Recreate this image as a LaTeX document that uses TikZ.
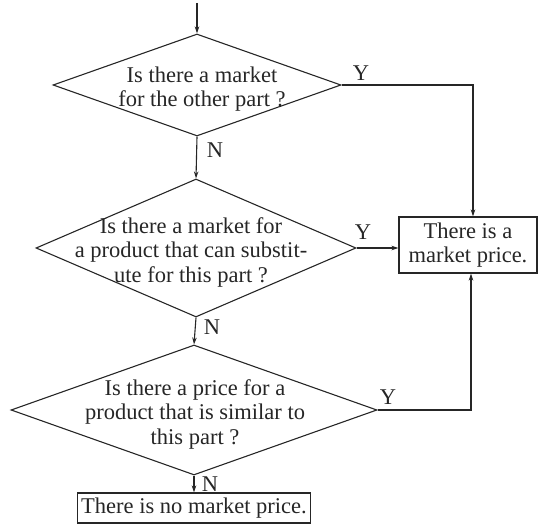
\documentclass[tikz,border=0pt]{standalone}
\usepackage{fontspec}
\setmainfont{Liberation Serif}
\usetikzlibrary{shapes.geometric, arrows.meta}

\tikzset{
  decision/.style={diamond, draw, inner sep=0pt},
  question/.style={align=center, inner sep=0pt},
  answer/.style={draw, align=center, inner xsep=4pt, inner ysep=3pt},
  flow/.style={-{Stealth[length=7pt, width=4.5pt]}},
}

\begin{document}
\begin{tikzpicture}[line width=1.1pt, color=black!85, font=\fontsize{22.5}{24.5}\selectfont]
\begin{scope}[x=1pt, y=-1pt]
\useasboundingbox (0,0) rectangle (538,526);

% decisions
\coordinate (in) at (197,3);
\node[decision, minimum width=288pt, minimum height=102pt] (d1) at (197,85) {};
\node[question] (q1) at (202,89) {Is there a market\\for the other part ?};
\node[decision, minimum width=320pt, minimum height=138pt] (d2) at (196,248) {};
\node[question] (q2) at (191,252) {Is there a market for\\a product that can substit-\\ute for this part ?};
\node[decision, minimum width=366pt, minimum height=130pt] (d3) at (194,410) {};
\node[question] (q3) at (195,414) {Is there a price for a\\product that is similar to\\this part ?};

% outcomes
\node[answer, minimum width=138pt, minimum height=56pt] (mp) at (468,245) {There is a\\market price.};
\node[answer, minimum height=30pt] (none) at (194,508) {There is no market price.};

\draw[flow] (in) -- (d1.north);
\draw[flow] (d1.south) -- (d2.north);
\draw[flow] (d2.south) -- (d3.north);
\draw[flow] (d3.south) -- (none.north);
\draw[flow] (d1.east) -| ([xshift=5pt]mp.north);
\draw[flow] (d2.east) -- (d2.east -| mp.west);
\draw[flow] (d3.east) -| ([xshift=3pt]mp.south);

% branch labels
\node (y1) at (361,73) {Y};
\node (y2) at (363,232) {Y};
\node (y3) at (388,397) {Y};
\node (n1) at (215,150) {N};
\node (n2) at (212,327) {N};
\node (n3) at (210,484) {N};
\end{scope}
\end{tikzpicture}
\end{document}
